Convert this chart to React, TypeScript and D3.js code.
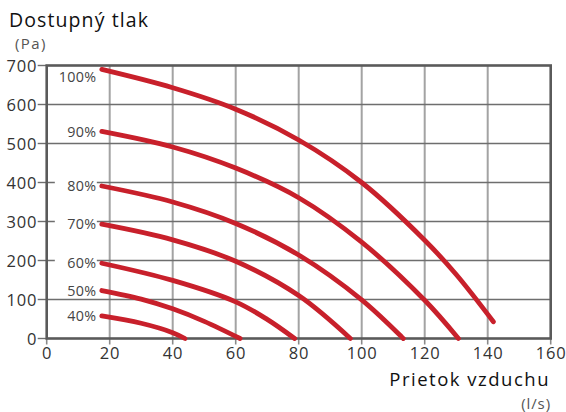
import React from "react";
import * as d3 from "d3";

const W = 566;
const H = 412;

const xTicks = [0, 20, 40, 60, 80, 100, 120, 140, 160];
const yTicks = [0, 100, 200, 300, 400, 500, 600, 700];

const seriesNames = ["100%", "90%", "80%", "70%", "60%", "50%", "40%"];

const flow100 = [17.5, 40, 60, 80, 100, 120, 130, 141.8];
const pres100 = [690, 643, 588, 509, 400, 252, 164, 43];
const flow90 = [17.5, 40, 60, 80, 100, 120, 130.7];
const pres90 = [531, 491, 437, 361, 247, 98, 0];
const flow80 = [17.5, 40, 60, 80, 100, 113.2];
const pres80 = [391, 350, 295, 214, 99, 0];
const flow70 = [17.5, 40, 60, 80, 96.4];
const pres70 = [293, 253, 198, 110, 0];
const flow60 = [17.5, 40, 60, 70, 78.7];
const pres60 = [193, 149, 94, 49, 0];
const flow50 = [17.5, 30, 40, 50, 61.4];
const pres50 = [123, 101, 76, 44, 0];
const flow40 = [17.5, 30, 40, 43.9];
const pres40 = [58, 39, 15, 0];

const flows = [flow100, flow90, flow80, flow70, flow60, flow50, flow40];
const pressures = [pres100, pres90, pres80, pres70, pres60, pres50, pres40];

const FONT = "'Open Sans', sans-serif";

export default function App() {
  const left = 46.7;
  const right = 550.7;
  const top = 65.5;
  const bottom = 338.5;

  const x = d3.scaleLinear().domain([0, 160]).range([left, right]);
  const y = d3.scaleLinear().domain([0, 700]).range([bottom, top]);

  const line = d3
    .line<[number, number]>()
    .x((d) => x(d[0]))
    .y((d) => y(d[1]))
    .curve(d3.curveCatmullRom.alpha(0.5));

  return (
    <svg
      width={W}
      height={H}
      style={{ position: "absolute", left: 0, top: 0, background: "#fff" }}
      fontFamily={FONT}
    >
      {xTicks.slice(1, -1).map((t) => (
        <line key={"vx" + t} x1={x(t)} x2={x(t)} y1={top} y2={bottom} stroke="#a3a3a3" strokeWidth={2} />
      ))}
      {yTicks.slice(1, -1).map((t) => (
        <line key={"hy" + t} x1={left} x2={right} y1={y(t)} y2={y(t)} stroke="#6e6e6e" strokeWidth={1.4} />
      ))}
      {yTicks.map((t) => (
        <line key={"ty" + t} x1={left - 9} x2={left} y1={y(t)} y2={y(t)} stroke="#6e6e6e" strokeWidth={1.4} />
      ))}
      {xTicks.map((t) => (
        <line key={"tx" + t} x1={x(t)} x2={x(t)} y1={bottom} y2={bottom + 6} stroke="#8a8a8a" strokeWidth={1.6} />
      ))}
      <rect x={left} y={top} width={right - left} height={bottom - top} fill="none" stroke="#5a5a5a" strokeWidth={2.6} />

      {seriesNames.map((name, i) => {
        const cy = Math.max(y(pressures[i][0]), top + 11);
        return (
          <g key={"lab" + name}>
            <rect x={x(flows[i][0]) - 47} y={cy - 8} width={42} height={15} fill="#fff" />
            <text
              x={x(flows[i][0]) - 5.5}
              y={cy + 5.2}
              textAnchor="end"
              fontSize={14.3}
              fill="#444"
              letterSpacing={0.3}
            >
              {name}
            </text>
          </g>
        );
      })}

      {seriesNames.map((name, i) => (
        <path
          key={"c" + name}
          d={line(flows[i].map((f, j) => [f, pressures[i][j]] as [number, number])) || ""}
          fill="none"
          stroke="#c8202b"
          strokeWidth={4.8}
          strokeLinecap="round"
        />
      ))}

      {yTicks.map((t) => (
        <text key={"yl" + t} x={left - 9.5} y={y(t) + 6} textAnchor="end" fontSize={16.5} fill="#333" letterSpacing={0.8}>
          {t}
        </text>
      ))}
      {xTicks.map((t) => (
        <text key={"xl" + t} x={x(t) + 0.4} y={358.5} textAnchor="middle" fontSize={16.5} fill="#333" letterSpacing={0.8}>
          {t}
        </text>
      ))}

      <text x={9} y={26.5} fontSize={19.5} fill="#111" letterSpacing={1.1}>
        Dostupný tlak
      </text>
      <text x={15} y={48.5} fontSize={15} fill="#555" letterSpacing={1.4}>
        (Pa)
      </text>
      <text x={550} y={386} textAnchor="end" fontSize={18.5} fill="#111" letterSpacing={1.5}>
        Prietok vzduchu
      </text>
      <text x={551} y={409} textAnchor="end" fontSize={15} fill="#555" letterSpacing={0.9}>
        (l/s)
      </text>
    </svg>
  );
}
